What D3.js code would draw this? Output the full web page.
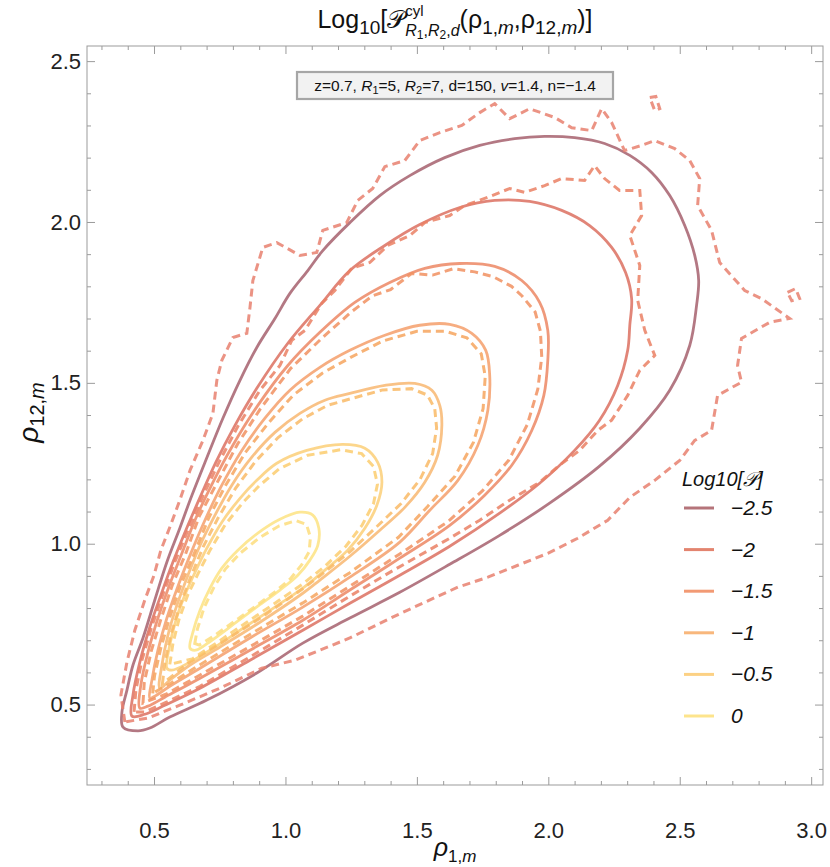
<!DOCTYPE html>
<html><head><meta charset="utf-8">
<script src="https://cdn.jsdelivr.net/npm/d3@7/dist/d3.min.js"></script>
<style>body{margin:0;background:#fff;} svg text{font-family:"Liberation Sans",Arial,sans-serif;white-space:pre;}</style>
</head><body><svg id="c" width="830" height="867"></svg>
<script>
const xMajor=[0.5,1.0,1.5,2.0,2.5,3.0];
const yMajor=[0.5,1.0,1.5,2.0,2.5];
const levels=[-2.5,-2,-1.5,-1,-0.5,0];
const levelLabels=["\u22122.5","\u22122","\u22121.5","\u22121","\u22120.5","0"];
const legendColors=["#b5747a","#e3846f","#f29a74","#f8b77c","#fcd184","#fde48c"];

// analytic (solid) contours, outer -> inner
const solidC1=[[0.439,0.418],[0.382,0.430],[0.378,0.477],[0.397,0.545],[0.420,0.623],[0.458,0.707],[0.503,0.825],[0.549,0.943],[0.598,1.048],[0.637,1.135],[0.694,1.253],[0.762,1.390],[0.827,1.508],[0.891,1.610],[0.960,1.700],[1.017,1.778],[1.085,1.849],[1.142,1.911],[1.245,1.998],[1.359,2.082],[1.473,2.144],[1.606,2.200],[1.739,2.238],[1.872,2.259],[1.986,2.266],[2.100,2.262],[2.214,2.244],[2.310,2.207],[2.393,2.154],[2.462,2.082],[2.519,1.989],[2.557,1.896],[2.572,1.818],[2.564,1.741],[2.538,1.616],[2.462,1.477],[2.348,1.359],[2.195,1.241],[2.005,1.126],[1.815,1.026],[1.625,0.936],[1.435,0.849],[1.245,0.769],[1.066,0.691],[0.891,0.598],[0.701,0.514],[0.560,0.461],[0.484,0.427]];
const solidC2=[[0.416,0.464],[0.420,0.530],[0.446,0.632],[0.484,0.741],[0.526,0.840],[0.572,0.943],[0.621,1.042],[0.675,1.144],[0.735,1.253],[0.808,1.368],[0.891,1.483],[1.009,1.623],[1.131,1.741],[1.245,1.849],[1.378,1.927],[1.511,1.992],[1.663,2.045],[1.796,2.067],[1.929,2.064],[2.051,2.036],[2.157,1.989],[2.241,1.921],[2.294,1.843],[2.317,1.762],[2.310,1.679],[2.302,1.601],[2.264,1.492],[2.195,1.384],[2.100,1.290],[1.967,1.188],[1.815,1.095],[1.625,0.992],[1.435,0.902],[1.245,0.815],[1.066,0.731],[0.865,0.638],[0.675,0.551],[0.541,0.498],[0.465,0.470]];
const solidC3=[[0.446,0.489],[0.450,0.561],[0.477,0.663],[0.515,0.769],[0.557,0.868],[0.606,0.970],[0.659,1.079],[0.724,1.191],[0.800,1.306],[0.895,1.430],[1.009,1.554],[1.131,1.657],[1.264,1.750],[1.397,1.812],[1.530,1.856],[1.663,1.871],[1.796,1.862],[1.899,1.818],[1.967,1.750],[1.998,1.663],[1.998,1.570],[1.983,1.461],[1.937,1.352],[1.861,1.244],[1.758,1.151],[1.625,1.057],[1.435,0.955],[1.245,0.856],[1.066,0.762],[0.865,0.669],[0.675,0.582],[0.541,0.523],[0.477,0.495]];
const solidC4=[[0.484,0.520],[0.492,0.576],[0.515,0.669],[0.549,0.769],[0.591,0.868],[0.640,0.970],[0.697,1.079],[0.758,1.182],[0.834,1.290],[0.922,1.390],[1.017,1.477],[1.131,1.548],[1.245,1.601],[1.378,1.648],[1.511,1.679],[1.625,1.682],[1.709,1.654],[1.762,1.601],[1.777,1.523],[1.770,1.415],[1.732,1.306],[1.656,1.197],[1.549,1.104],[1.435,1.005],[1.245,0.896],[1.066,0.803],[0.865,0.707],[0.675,0.613],[0.560,0.557],[0.503,0.526]];
const solidC5=[[0.522,0.551],[0.530,0.623],[0.553,0.716],[0.587,0.809],[0.629,0.902],[0.675,0.995],[0.732,1.089],[0.796,1.182],[0.872,1.269],[0.960,1.346],[1.055,1.405],[1.150,1.446],[1.245,1.467],[1.378,1.492],[1.492,1.498],[1.557,1.477],[1.587,1.430],[1.595,1.368],[1.579,1.275],[1.530,1.191],[1.454,1.113],[1.359,1.042],[1.245,0.961],[1.131,0.887],[1.066,0.846],[0.903,0.756],[0.751,0.679],[0.637,0.623],[0.560,0.576]];
const solidC6=[[0.549,0.613],[0.560,0.685],[0.583,0.762],[0.617,0.840],[0.656,0.911],[0.701,0.986],[0.758,1.067],[0.827,1.141],[0.891,1.197],[0.967,1.250],[1.081,1.290],[1.218,1.309],[1.302,1.297],[1.351,1.253],[1.367,1.191],[1.348,1.120],[1.302,1.048],[1.237,0.980],[1.150,0.918],[1.066,0.862],[0.960,0.803],[0.846,0.741],[0.732,0.679],[0.637,0.632],[0.568,0.607]];
const solidC7=[[0.637,0.675],[0.648,0.725],[0.675,0.793],[0.713,0.862],[0.758,0.924],[0.819,0.980],[0.895,1.033],[0.979,1.076],[1.055,1.098],[1.104,1.089],[1.127,1.048],[1.123,0.995],[1.093,0.949],[1.047,0.902],[0.979,0.856],[0.895,0.806],[0.808,0.753],[0.720,0.700],[0.659,0.669]];
const solidContours=[solidC1,solidC2,solidC3,solidC4,solidC5,solidC6,solidC7];
const solidColors=["#ad6d78","#de7b6c","#ee9070","#f5a676","#f9bd7c","#fcd282","#fde58c"];

// simulated (dashed) contours, outer -> inner
const dashD1=[[0.389,0.446],[0.374,0.530],[0.397,0.632],[0.427,0.731],[0.465,0.825],[0.500,0.902],[0.526,0.980],[0.560,1.051],[0.598,1.135],[0.637,1.228],[0.686,1.321],[0.724,1.405],[0.739,1.508],[0.758,1.570],[0.800,1.641],[0.853,1.654],[0.865,1.734],[0.876,1.818],[0.914,1.921],[0.967,1.936],[1.055,1.896],[1.119,1.905],[1.142,1.974],[1.233,1.998],[1.275,2.067],[1.332,2.104],[1.378,2.172],[1.454,2.191],[1.511,2.253],[1.587,2.278],[1.671,2.300],[1.739,2.340],[1.796,2.368],[1.853,2.321],[1.929,2.352],[2.024,2.325],[2.089,2.293],[2.165,2.284],[2.203,2.352],[2.241,2.309],[2.290,2.222],[2.355,2.238],[2.405,2.253],[2.481,2.228],[2.538,2.191],[2.576,2.135],[2.568,2.051],[2.621,1.974],[2.652,1.874],[2.747,1.787],[2.811,1.762],[2.918,1.700],[2.842,1.688],[2.735,1.638],[2.720,1.554],[2.735,1.502],[2.644,1.461],[2.621,1.352],[2.557,1.321],[2.500,1.259],[2.405,1.197],[2.310,1.144],[2.226,1.073],[2.112,1.017],[1.998,0.970],[1.884,0.933],[1.770,0.896],[1.656,0.865],[1.530,0.818],[1.416,0.775],[1.245,0.707],[1.131,0.669],[1.036,0.638],[0.910,0.613],[0.751,0.551],[0.598,0.498],[0.477,0.458]];
const dashD2=[[0.424,0.477],[0.431,0.545],[0.454,0.638],[0.492,0.744],[0.534,0.843],[0.579,0.943],[0.629,1.042],[0.686,1.148],[0.747,1.253],[0.819,1.365],[0.903,1.477],[0.979,1.554],[1.024,1.632],[1.074,1.663],[1.138,1.747],[1.188,1.787],[1.252,1.856],[1.321,1.874],[1.389,1.927],[1.473,1.958],[1.530,1.998],[1.625,2.020],[1.682,2.051],[1.777,2.079],[1.853,2.104],[1.910,2.092],[1.986,2.113],[2.051,2.135],[2.138,2.129],[2.176,2.175],[2.214,2.135],[2.271,2.098],[2.348,2.098],[2.355,2.020],[2.310,1.958],[2.348,1.865],[2.340,1.756],[2.367,1.663],[2.405,1.585],[2.348,1.539],[2.302,1.461],[2.241,1.384],[2.188,1.352],[2.119,1.290],[2.043,1.244],[1.967,1.191],[1.853,1.135],[1.739,1.073],[1.625,1.017],[1.511,0.964],[1.397,0.911],[1.245,0.837],[1.066,0.747],[0.865,0.648],[0.675,0.557],[0.541,0.505],[0.465,0.477]];
const dashD3=[[0.458,0.505],[0.463,0.570],[0.490,0.668],[0.526,0.765],[0.570,0.872],[0.620,0.968],[0.672,1.085],[0.740,1.190],[0.818,1.310],[0.905,1.420],[1.020,1.545],[1.140,1.640],[1.250,1.720],[1.330,1.770],[1.400,1.790],[1.480,1.840],[1.560,1.835],[1.640,1.855],[1.720,1.845],[1.790,1.830],[1.860,1.800],[1.900,1.770],[1.950,1.720],[1.970,1.660],[1.975,1.580],[1.960,1.480],[1.920,1.370],[1.850,1.260],[1.750,1.165],[1.620,1.070],[1.435,0.968],[1.245,0.868],[1.066,0.775],[0.865,0.680],[0.675,0.592],[0.545,0.532]];
const dashD4=[[0.495,0.535],[0.502,0.590],[0.526,0.676],[0.560,0.772],[0.602,0.872],[0.652,0.968],[0.708,1.080],[0.770,1.178],[0.846,1.282],[0.935,1.375],[1.030,1.462],[1.140,1.530],[1.250,1.580],[1.370,1.630],[1.500,1.660],[1.610,1.660],[1.690,1.640],[1.745,1.590],[1.760,1.520],[1.752,1.420],[1.715,1.315],[1.645,1.210],[1.540,1.115],[1.430,1.020],[1.245,0.910],[1.066,0.816],[0.865,0.718],[0.675,0.624],[0.565,0.567]];
const dashD5=[[0.532,0.565],[0.541,0.630],[0.565,0.720],[0.600,0.812],[0.642,0.902],[0.688,0.992],[0.745,1.082],[0.810,1.172],[0.885,1.255],[0.972,1.330],[1.065,1.388],[1.160,1.430],[1.255,1.452],[1.370,1.478],[1.480,1.482],[1.540,1.462],[1.568,1.420],[1.575,1.360],[1.560,1.280],[1.512,1.200],[1.440,1.125],[1.350,1.055],[1.245,0.975],[1.131,0.900],[1.066,0.860],[0.903,0.768],[0.751,0.690],[0.640,0.635]];
const dashD6=[[0.560,0.625],[0.572,0.690],[0.595,0.765],[0.628,0.840],[0.668,0.908],[0.713,0.980],[0.770,1.058],[0.838,1.128],[0.900,1.180],[0.975,1.232],[1.085,1.275],[1.210,1.292],[1.290,1.280],[1.335,1.240],[1.350,1.185],[1.335,1.125],[1.292,1.058],[1.230,0.992],[1.150,0.930],[1.066,0.875],[0.960,0.815],[0.846,0.752],[0.735,0.690],[0.645,0.642]];
const dashD7=[[0.655,0.690],[0.665,0.735],[0.690,0.800],[0.728,0.865],[0.772,0.922],[0.830,0.972],[0.900,1.018],[0.975,1.055],[1.040,1.072],[1.080,1.060],[1.095,1.020],[1.090,0.975],[1.062,0.935],[1.020,0.892],[0.960,0.850],[0.885,0.805],[0.805,0.758],[0.725,0.712],[0.672,0.685]];
const dashIslands=[[[2.386,2.387],[2.409,2.390],[2.424,2.352],[2.405,2.346]],[[2.910,1.781],[2.941,1.793],[2.956,1.762],[2.926,1.755]]];
const dashContours=[dashD1,dashD2,dashD3,dashD4,dashD5,dashD6,dashD7];
const dashColors=["#e8806e","#ea8064","#f19060","#f6a45e","#f9ba66","#fccd6e","#fddd7c"];

const svg=d3.select("#c");
const X0=87,X1=823,Y0=46,Y1=785;
const x=d3.scaleLinear().domain([0.245,3.045]).range([X0,X1]);
const y=d3.scaleLinear().domain([0.25,2.547]).range([Y1,Y0]);
const frameColor="#9b9b9b";

const xMinor=d3.range(3,31).map(d=>d/10).filter(v=>Math.abs(v*2-Math.round(v*2))>1e-6);
const yMinor=d3.range(3,26).map(d=>d/10).filter(v=>Math.abs(v*2-Math.round(v*2))>1e-6);

function styleAxis(g){g.select(".domain").remove();g.selectAll(".tick line").attr("stroke",frameColor);}
const axes=svg.append("g");
axes.append("g").attr("transform",`translate(0,${Y1})`).call(d3.axisBottom(x).tickValues(xMajor).tickSize(-8).tickPadding(37).tickFormat(d3.format(".1f"))).call(styleAxis)
 .selectAll("text").attr("font-size",22).attr("fill","#222").attr("font-family","Liberation Sans, Arial");
axes.append("g").attr("transform",`translate(0,${Y1})`).call(d3.axisBottom(x).tickValues(xMinor).tickSize(-4).tickFormat("")).call(styleAxis);
axes.append("g").attr("transform",`translate(0,${Y0})`).call(d3.axisTop(x).tickValues(xMajor).tickSize(-8).tickFormat("")).call(styleAxis);
axes.append("g").attr("transform",`translate(0,${Y0})`).call(d3.axisTop(x).tickValues(xMinor).tickSize(-4).tickFormat("")).call(styleAxis);
axes.append("g").attr("transform",`translate(${X0},0)`).call(d3.axisLeft(y).tickValues(yMajor).tickSize(-8).tickPadding(6).tickFormat(d3.format(".1f"))).call(styleAxis)
 .selectAll("text").attr("font-size",22).attr("fill","#222").attr("font-family","Liberation Sans, Arial");
axes.append("g").attr("transform",`translate(${X0},0)`).call(d3.axisLeft(y).tickValues(yMinor).tickSize(-4).tickFormat("")).call(styleAxis);
axes.append("g").attr("transform",`translate(${X1},0)`).call(d3.axisRight(y).tickValues(yMajor).tickSize(-8).tickFormat("")).call(styleAxis);
axes.append("g").attr("transform",`translate(${X1},0)`).call(d3.axisRight(y).tickValues(yMinor).tickSize(-4).tickFormat("")).call(styleAxis);
svg.append("rect").attr("x",X0).attr("y",Y0).attr("width",X1-X0).attr("height",Y1-Y0).attr("fill","none").attr("stroke",frameColor).attr("stroke-width",1);

// contours
const smooth=d3.line().x(d=>x(d[0])).y(d=>y(d[1])).curve(d3.curveCatmullRomClosed.alpha(0.5));
const jag=d3.line().x(d=>x(d[0])).y(d=>y(d[1])).curve(d3.curveLinearClosed);
const cg=svg.append("g");
solidContours.forEach((pts,i)=>{
  cg.append("path").attr("d",smooth(pts)).attr("fill","none").attr("stroke",solidColors[i]).attr("stroke-width",2.8).attr("stroke-opacity",0.92);
});
dashContours.forEach((pts,i)=>{
  cg.append("path").attr("d",jag(pts)).attr("fill","none").attr("stroke",dashColors[i]).attr("stroke-width",3).attr("stroke-opacity",0.85).attr("stroke-dasharray","8,5");
});
dashIslands.forEach(pts=>{
  cg.append("path").attr("d",jag(pts)).attr("fill","none").attr("stroke",dashColors[0]).attr("stroke-width",3).attr("stroke-opacity",0.85).attr("stroke-dasharray","8,5");
});

// rich text helper
function rich(parent,x0,y0,segs,anchor){
  const g=parent.append("g");
  let cx=0;
  segs.forEach(s=>{
    const t=g.append("text").attr("x",cx+(s.dx||0)).attr("y",s.dy||0).attr("font-size",s.s).attr("fill","#111").text(s.t);
    if(s.i) t.attr("font-style","italic");
    if(s.f) t.attr("font-family",s.f);
    const w=t.node().getComputedTextLength();
    if(!s.nb) cx+=w+(s.dx||0);
  });
  const shift=anchor==="middle"?-cx/2:(anchor==="end"?-cx:0);
  g.attr("transform",`translate(${x0+shift},${y0})`);
  return g;
}
// title
rich(svg,455,28,[
 {t:"Log",s:25},{t:"10",s:19,dy:6},{t:"[",s:25},{t:"\u{1D4AB}",s:25,f:"DejaVu Sans"},
 {t:"cyl",s:15,dy:-12,nb:true},
 {t:"R",s:16,i:1,dy:8},{t:"1",s:12,dy:11},{t:",",s:16,dy:8},{t:"R",s:16,i:1,dy:8},{t:"2",s:12,dy:11},{t:",",s:16,dy:8},{t:"d",s:16,i:1,dy:8},
 {t:"(\u03C1",s:25},{t:"1,",s:19,dy:6},{t:"m",s:19,i:1,dy:6},{t:",\u03C1",s:25},{t:"12,",s:19,dy:6},{t:"m",s:19,i:1,dy:6},{t:")]",s:25}
],"middle");

// axis labels
rich(svg,455,856,[{t:"\u03C1",s:25,i:1},{t:"1,",s:17,dy:6},{t:"m",s:17,i:1,dy:6}],"middle");
const yl=rich(svg,0,0,[{t:"\u03C1",s:28,i:1},{t:"12,",s:20,dy:6},{t:"m",s:20,i:1,dy:6}],"start");
{const bb=yl.node().getBBox();yl.attr("transform",`translate(38,${412+bb.width/2}) rotate(-90)`);}

// parameter box
const boxG=svg.append("g");
boxG.append("rect").attr("x",297).attr("y",72).attr("width",316).attr("height",27).attr("fill","#f2f2f2").attr("stroke","#a6a6a6").attr("stroke-width",2.2);
rich(boxG,455,91,[{t:"z=0.7, ",s:15.5},{t:"R",s:15.5,i:1},{t:"1",s:11,dy:3},{t:"=5, ",s:15.5},{t:"R",s:15.5,i:1},{t:"2",s:11,dy:3},{t:"=7, d=150, ",s:15.5},{t:"v",s:15.5,i:1},{t:"=1.4, n=\u22121.4",s:15.5}],"middle");

// legend
const lg=svg.append("g");
rich(lg,682,486,[{t:"Log10[",s:20,i:1},{t:"\u{1D4AB}",s:20,i:1,f:"DejaVu Sans"},{t:"]",s:20,i:1}],"start");
levels.forEach((lv,i)=>{
  const yy=508+i*41.6;
  lg.append("line").attr("x1",684).attr("x2",714).attr("y1",yy).attr("y2",yy).attr("stroke",legendColors[i]).attr("stroke-width",3);
  lg.append("text").attr("x",731).attr("y",yy+7).attr("font-size",21).attr("font-style","italic").attr("fill","#111").text(levelLabels[i]);
});
</script></body></html>
